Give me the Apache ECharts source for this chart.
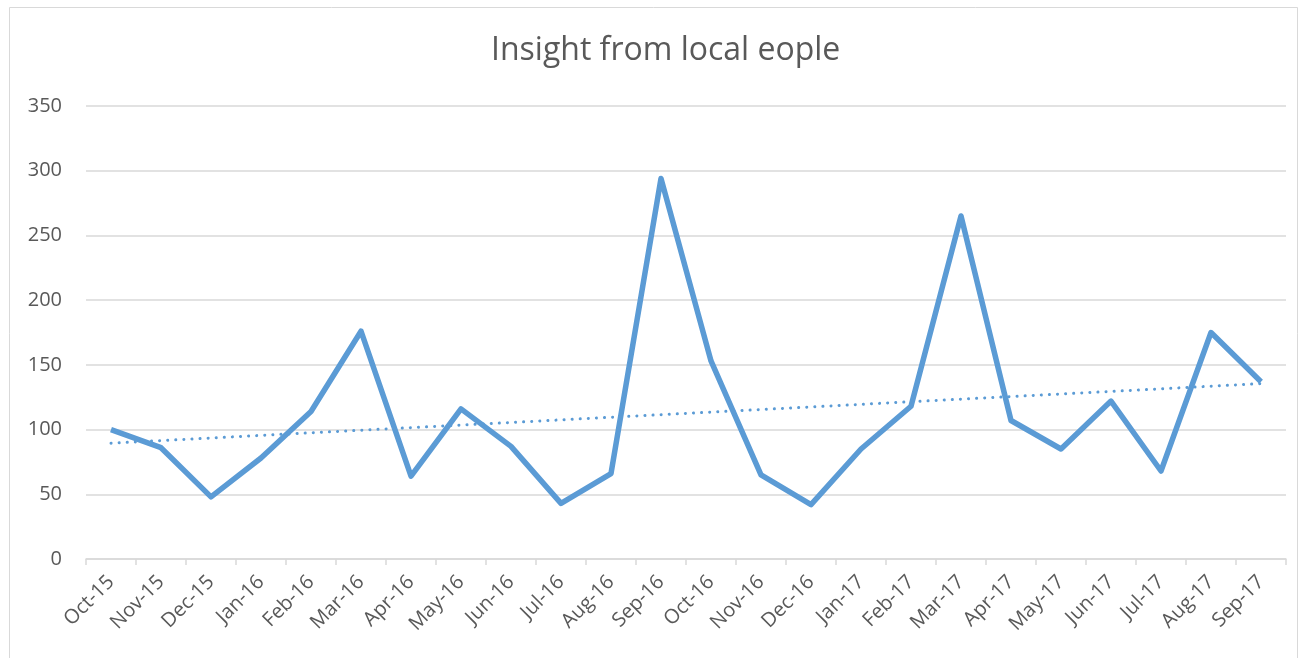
<!DOCTYPE html>
<html><head><meta charset="utf-8">
<script src="https://cdn.jsdelivr.net/npm/echarts@6/dist/echarts.min.js"></script>
<style>html,body{margin:0;padding:0;background:#fff}#c{width:1304px;height:658px}</style>
</head><body><div id="c"></div>
<script>
const categories = ['Oct-15','Nov-15','Dec-15','Jan-16','Feb-16','Mar-16','Apr-16','May-16','Jun-16','Jul-16','Aug-16','Sep-16','Oct-16','Nov-16','Dec-16','Jan-17','Feb-17','Mar-17','Apr-17','May-17','Jun-17','Jul-17','Aug-17','Sep-17'];
const values = [100,86,48,78,114,176,64,116,87,43,66,294,153,65,42,85,118,265,107,85,122,68,175,137];
const trendEnds = [89.5, 135.5];
const yTicks = {min:0, max:350, interval:50};
const title = 'Insight from local eople';

const chart = echarts.init(document.getElementById('c'), null, {renderer:'canvas'});
chart.setOption({
  animation:false,
  backgroundColor:'#fff',
  title:{text:title, left:486, top:30, textStyle:{fontFamily:'Open Sans', fontWeight:'normal', fontSize:32, color:'#595959'}},
  graphic:[{type:'rect', shape:{x:9.5,y:7.5,width:1288,height:660}, style:{fill:'none', stroke:'#d9d9d9', lineWidth:1}}],
  grid:{left:86, right:18, top:106, bottom:99},
  xAxis:{type:'category', data:categories, boundaryGap:true,
    axisLine:{lineStyle:{color:'#d9d9d9', width:1.5}},
    axisTick:{show:true, length:6, lineStyle:{color:'#d9d9d9', width:1.5}},
    axisLabel:{rotate:45, color:'#595959', fontFamily:'Open Sans', fontSize:20, margin:20}},
  yAxis:{type:'value', min:yTicks.min, max:yTicks.max, interval:yTicks.interval,
    axisLine:{show:false}, axisTick:{show:false},
    splitLine:{lineStyle:{color:'#d9d9d9', width:1.5}},
    axisLabel:{color:'#595959', fontFamily:'Open Sans', fontSize:20, margin:24}},
  series:[
    {type:'line', data:values, symbol:'none', lineStyle:{color:'#5b9bd5', width:5.5, join:'round'}, z:3},
    {type:'line', data:[[0,trendEnds[0]],[categories.length-1,trendEnds[1]]], symbol:'none',
      lineStyle:{color:'#5b9bd5', width:3, type:[0.1,8], cap:'round'}, z:2}
  ]
});
</script></body></html>
